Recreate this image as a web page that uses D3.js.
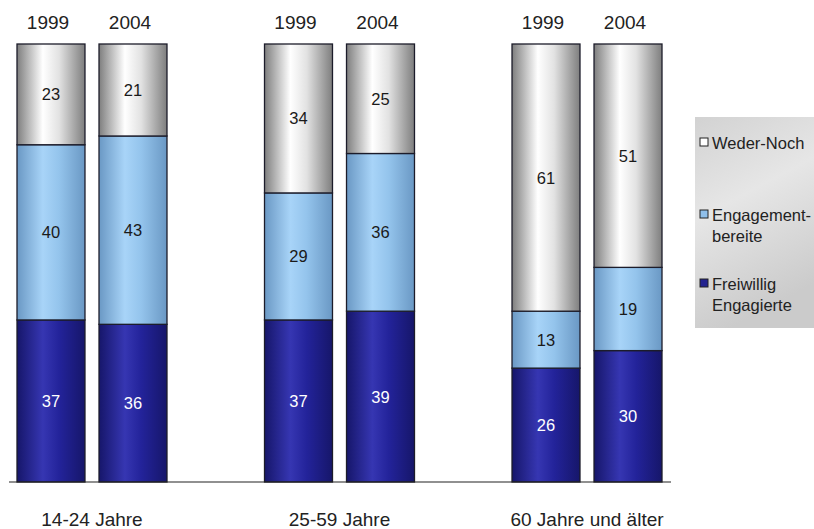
<!DOCTYPE html>
<html><head><meta charset="utf-8">
<script src="https://cdn.jsdelivr.net/npm/d3@7"></script>
<style>body{margin:0;background:#fff}svg{display:block;font-family:"Liberation Sans",Arial,sans-serif}</style>
</head><body><svg id="c" width="814" height="529"></svg>
<script>
const groups = ["14-24 Jahre", "25-59 Jahre", "60 Jahre und älter"];
const years = ["1999", "2004"];
const seriesNames = ["Freiwillig Engagierte", "Engagement-bereite", "Weder-Noch"];
const freiwillig = [[37, 36], [37, 39], [26, 30]];
const bereit = [[40, 43], [29, 36], [13, 19]];
const weder = [[23, 21], [34, 25], [61, 51]];
const legendLines = [["Weder-Noch"], ["Engagement-", "bereite"], ["Freiwillig", "Engagierte"]];

const svg = d3.select("#c");
const defs = svg.append("defs");
function cyl(id, edge, mid, light) {
  const g = defs.append("linearGradient").attr("id", id).attr("x1", "0").attr("x2", "1").attr("y1", "0").attr("y2", "0");
  g.append("stop").attr("offset", "0").attr("stop-color", edge);
  g.append("stop").attr("offset", "0.38").attr("stop-color", light);
  g.append("stop").attr("offset", "0.62").attr("stop-color", mid);
  g.append("stop").attr("offset", "1").attr("stop-color", edge);
}
cyl("gGray", "#7e7e7e", "#e2e2e2", "#ffffff");
cyl("gLight", "#6a98c4", "#94c4ec", "#a8d4f8");
cyl("gDark", "#16166a", "#23239a", "#3636b2");
const lg = defs.append("linearGradient").attr("id", "gLeg").attr("x1", "0").attr("x2", "0.3").attr("y1", "0").attr("y2", "1");
lg.append("stop").attr("offset", "0").attr("stop-color", "#d2d2d2");
lg.append("stop").attr("offset", "0.45").attr("stop-color", "#e6e6e6");
lg.append("stop").attr("offset", "1").attr("stop-color", "#cbcbcb");

const fills = ["url(#gDark)", "url(#gLight)", "url(#gGray)"];
const legFills = ["#22228f", "#8fbfea", "#ffffff"];
const textCol = ["#ffffff", "#1a1a1a", "#1a1a1a"];

const x0 = d3.scaleBand().domain(groups).range([17, 662]).paddingInner(0.394).paddingOuter(0);
const x1 = d3.scaleBand().domain(years).range([0, x0.bandwidth()]).paddingInner(0.171).paddingOuter(0);
const y = d3.scaleLinear().domain([0, 100]).range([482, 44]);

const data = [];
groups.forEach((g, gi) => years.forEach((yr, yi) => {
  const vals = [freiwillig[gi][yi], bereit[gi][yi], weder[gi][yi]];
  let acc = 0;
  vals.forEach((v, si) => { data.push({g, yr, si, v, y0: acc, y1: acc + v}); acc += v; });
}));

svg.append("g").selectAll("rect").data(data).join("rect")
  .attr("x", d => x0(d.g) + x1(d.yr))
  .attr("width", x1.bandwidth())
  .attr("y", d => y(d.y1))
  .attr("height", d => y(d.y0) - y(d.y1))
  .attr("fill", d => fills[d.si])
  .attr("stroke", "#1c1c2a").attr("stroke-width", 1.3);

svg.append("g").selectAll("text").data(data).join("text")
  .attr("x", d => x0(d.g) + x1(d.yr) + x1.bandwidth() / 2)
  .attr("y", d => y((d.y0 + d.y1) / 2) + 6)
  .attr("text-anchor", "middle").attr("font-size", 16.5)
  .attr("fill", d => textCol[d.si])
  .text(d => d.v);

// year labels
const yl = [];
groups.forEach(g => years.forEach(yr => yl.push({g, yr})));
svg.append("g").selectAll("text").data(yl).join("text")
  .attr("x", d => x0(d.g) + x1(d.yr) + x1.bandwidth() / 2 - 3)
  .attr("y", 29).attr("text-anchor", "middle").attr("font-size", 19).attr("fill", "#222")
  .text(d => d.yr);

// baseline
svg.append("line").attr("x1", 9).attr("x2", 671).attr("y1", y(0)).attr("y2", y(0))
  .attr("stroke", "#222").attr("stroke-width", 1.2);

// group labels
svg.append("g").selectAll("text").data(groups).join("text")
  .attr("x", d => x0(d) + x0.bandwidth() / 2)
  .attr("y", 526).attr("text-anchor", "middle").attr("font-size", 19).attr("fill", "#222")
  .text(d => d);

// legend
const leg = svg.append("g");
leg.append("rect").attr("x", 695).attr("y", 117).attr("width", 119).attr("height", 211).attr("fill", "url(#gLeg)");
const legY = [143, 215, 284];
[2, 1, 0].forEach((si, i) => {
  leg.append("rect").attr("x", 700).attr("y", legY[i] - 5).attr("width", 8).attr("height", 8)
    .attr("fill", legFills[si]).attr("stroke", "#222").attr("stroke-width", 1);
  const t = leg.append("text").attr("x", 712).attr("y", legY[i] + 6).attr("font-size", 16.5).attr("fill", "#222");
  legendLines[i].forEach((ln, li) => {
    t.append("tspan").attr("x", 712).attr("dy", li === 0 ? 0 : 21).text(ln);
  });
});
</script></body></html>
